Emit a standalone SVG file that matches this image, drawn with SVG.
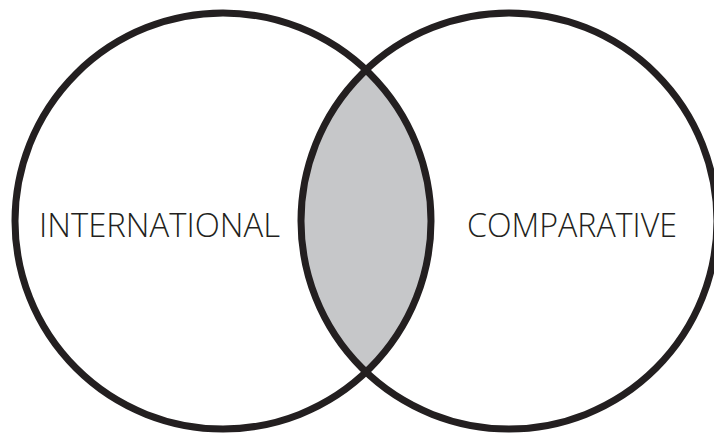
<svg xmlns="http://www.w3.org/2000/svg" width="714" height="436" viewBox="0 0 714 436">
<style>
.ring{fill:none;stroke:#231f20;stroke-width:7}
.lbl{font-family:"Open Sans","Liberation Sans",sans-serif;font-size:33px;font-weight:300;fill:#231f20}
</style>
<defs>
<clipPath id="clipL"><circle cx="223" cy="221" r="208"/></clipPath>
</defs>
<rect width="714" height="436" fill="#ffffff"/>
<g id="overlap">
<circle cx="509" cy="221" r="208" fill="#c6c7c9" clip-path="url(#clipL)"/>
</g>
<g id="international">
<circle class="ring" cx="223" cy="221" r="208"/>
<text class="lbl" x="39" y="237" textLength="241" lengthAdjust="spacingAndGlyphs">INTERNATIONAL</text>
</g>
<g id="comparative">
<circle class="ring" cx="509" cy="221" r="208"/>
<text class="lbl" x="467" y="237" textLength="210" lengthAdjust="spacingAndGlyphs">COMPARATIVE</text>
</g>
<g id="connectors"></g>
</svg>
